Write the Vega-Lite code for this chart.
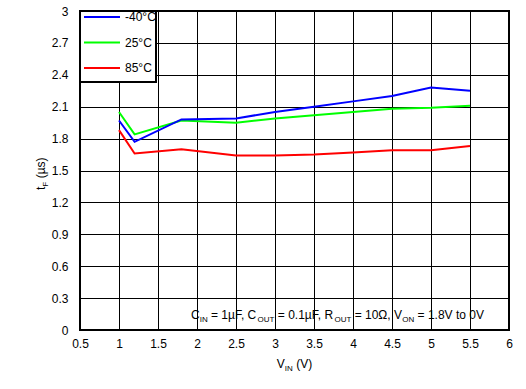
{
  "$schema": "https://vega.github.io/schema/vega-lite/v6.json",
  "width": 429,
  "height": 319,
  "autosize": {"type": "none"},
  "padding": {"left": 80, "top": 11, "right": 17, "bottom": 59},
  "background": "white",
  "config": {
    "font": "Liberation Sans",
    "view": {"stroke": "black", "strokeWidth": 2},
    "axis": {
      "grid": true, "gridColor": "black", "gridWidth": 1, "gridOpacity": 1,
      "domain": false, "ticks": false,
      "labelFont": "Liberation Sans", "labelFontSize": 12, "labelColor": "black",
      "labelFlush": false, "labelOverlap": false
    },
    "legend": {"strokeColor": "black", "fillColor": "white", "strokeWidth": 2}
  },
  "datasets": {
    "curves": [
      {"series": "85°C", "x": 1, "y": 1.88},
      {"series": "85°C", "x": 1.2, "y": 1.66},
      {"series": "85°C", "x": 1.8, "y": 1.7},
      {"series": "85°C", "x": 2.5, "y": 1.64},
      {"series": "85°C", "x": 3, "y": 1.64},
      {"series": "85°C", "x": 3.5, "y": 1.65},
      {"series": "85°C", "x": 4, "y": 1.67},
      {"series": "85°C", "x": 4.5, "y": 1.69},
      {"series": "85°C", "x": 5, "y": 1.69},
      {"series": "85°C", "x": 5.5, "y": 1.73},
      {"series": "25°C", "x": 1, "y": 2.05},
      {"series": "25°C", "x": 1.2, "y": 1.84},
      {"series": "25°C", "x": 1.8, "y": 1.97},
      {"series": "25°C", "x": 2.5, "y": 1.95},
      {"series": "25°C", "x": 3, "y": 1.99},
      {"series": "25°C", "x": 3.5, "y": 2.02},
      {"series": "25°C", "x": 4, "y": 2.05},
      {"series": "25°C", "x": 4.5, "y": 2.08},
      {"series": "25°C", "x": 5, "y": 2.09},
      {"series": "25°C", "x": 5.5, "y": 2.11},
      {"series": "-40°C", "x": 1, "y": 1.97},
      {"series": "-40°C", "x": 1.2, "y": 1.77},
      {"series": "-40°C", "x": 1.8, "y": 1.98},
      {"series": "-40°C", "x": 2.5, "y": 1.99},
      {"series": "-40°C", "x": 3, "y": 2.05},
      {"series": "-40°C", "x": 3.5, "y": 2.1},
      {"series": "-40°C", "x": 4, "y": 2.15},
      {"series": "-40°C", "x": 4.5, "y": 2.2},
      {"series": "-40°C", "x": 5, "y": 2.28},
      {"series": "-40°C", "x": 5.5, "y": 2.25}
    ],
    "labels": [
      {"dir": "h", "role": "main", "text": "C", "x": 1.9231, "y": 0.1},
      {"dir": "h", "role": "sub", "text": "IN", "x": 2.0341, "y": 0.1},
      {"dir": "h", "role": "main", "text": "= 1µF, C", "x": 2.1795, "y": 0.1},
      {"dir": "h", "role": "sub", "text": "OUT", "x": 2.7768, "y": 0.1},
      {"dir": "h", "role": "main", "text": "= 0.1µF, R", "x": 3.0362, "y": 0.1},
      {"dir": "h", "role": "sub", "text": "OUT", "x": 3.7619, "y": 0.1},
      {"dir": "h", "role": "main", "text": "= 10Ω, V", "x": 4.0212, "y": 0.1},
      {"dir": "h", "role": "sub", "text": "ON", "x": 4.6312, "y": 0.1},
      {"dir": "h", "role": "main", "text": "= 1.8V to 0V", "x": 4.8279, "y": 0.1},
      {"dir": "h", "role": "main", "text": "V", "x": 3.023, "y": -0.362},
      {"dir": "h", "role": "sub", "text": "IN", "x": 3.126, "y": -0.362},
      {"dir": "h", "role": "main", "text": "(V)", "x": 3.271, "y": -0.362},
      {"dir": "v", "role": "main", "text": "t", "x": 0.045, "y": 1.3167},
      {"dir": "v", "role": "sub", "text": "F", "x": 0.045, "y": 1.348},
      {"dir": "v", "role": "main", "text": "(µs)", "x": 0.045, "y": 1.426}
    ]
  },
  "encoding": {
    "x": {
      "field": "x", "type": "quantitative",
      "scale": {"domain": [0.5, 6], "nice": false, "zero": false},
      "axis": {"values": [0.5, 1, 1.5, 2, 2.5, 3, 3.5, 4, 4.5, 5, 5.5, 6], "format": "~g", "labelPadding": 8, "title": null}
    },
    "y": {
      "field": "y", "type": "quantitative",
      "scale": {"domain": [0, 3], "nice": false, "zero": false},
      "axis": {"values": [0, 0.3, 0.6, 0.9, 1.2, 1.5, 1.8, 2.1, 2.4, 2.7, 3], "format": "~g", "labelPadding": 12, "title": null}
    }
  },
  "layer": [
    {
      "data": {"name": "curves"},
      "mark": {"type": "line", "strokeWidth": 2},
      "encoding": {
        "color": {
          "field": "series", "type": "nominal",
          "scale": {"domain": ["-40°C", "25°C", "85°C"], "range": ["#0000ff", "#00ff00", "#ff0000"]},
          "legend": {
            "title": "                                              ",
            "titleOrient": "bottom",
            "titleFontSize": 6,
            "titlePadding": 2,
            "orient": "top-left",
            "offset": 0,
            "padding": 0,
            "fillColor": "white",
            "strokeColor": "black",
            "symbolType": "M-9,0H9",
            "symbolSize": 16,
            "symbolStrokeWidth": 2,
            "labelFontSize": 12,
            "labelFont": "Liberation Sans",
            "labelColor": "black",
            "symbolOffset": 16,
            "labelOffset": 17,
            "rowPadding": 13.5
          }
        }
      }
    },
    {
      "data": {"name": "labels"},
      "transform": [{"filter": "datum.dir == 'h' && datum.role == 'main'"}],
      "mark": {"type": "text", "align": "left", "baseline": "alphabetic", "fontSize": 12, "font": "Liberation Sans", "color": "black"},
      "encoding": {"text": {"field": "text"}}
    },
    {
      "data": {"name": "labels"},
      "transform": [{"filter": "datum.dir == 'h' && datum.role == 'sub'"}],
      "mark": {"type": "text", "align": "left", "baseline": "alphabetic", "fontSize": 8, "dy": 3, "font": "Liberation Sans", "color": "black"},
      "encoding": {"text": {"field": "text"}}
    },
    {
      "data": {"name": "labels"},
      "transform": [{"filter": "datum.dir == 'v' && datum.role == 'main'"}],
      "mark": {"type": "text", "align": "left", "baseline": "alphabetic", "angle": 270, "fontSize": 12, "font": "Liberation Sans", "color": "black"},
      "encoding": {"text": {"field": "text"}}
    },
    {
      "data": {"name": "labels"},
      "transform": [{"filter": "datum.dir == 'v' && datum.role == 'sub'"}],
      "mark": {"type": "text", "align": "left", "baseline": "alphabetic", "angle": 270, "fontSize": 8, "dy": 3, "font": "Liberation Sans", "color": "black"},
      "encoding": {"text": {"field": "text"}}
    }
  ]
}
